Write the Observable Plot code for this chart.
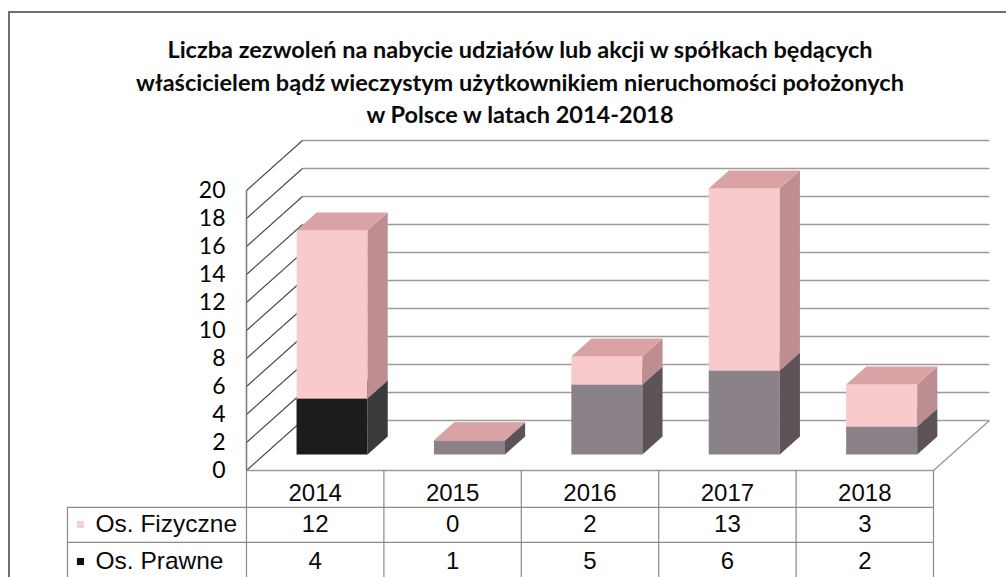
<!DOCTYPE html>
<html>
<head>
<meta charset="utf-8">
<script src="https://cdn.jsdelivr.net/npm/d3@7"></script>
<script src="https://cdn.jsdelivr.net/npm/@observablehq/plot@0.6"></script>
<style>
  html, body { margin: 0; padding: 0; background: #fff; width: 1006px; height: 577px; overflow: hidden; position: relative; }
  #frame { position: absolute; left: 8px; top: 11px; width: 1100px; height: 700px; border-top: 2px solid #6e6e6e; border-left: 2px solid #6e6e6e; box-sizing: border-box; }
  #title { position: absolute; left: 20px; top: 33px; width: 1000px; text-align: center; font-family: Lato, "Noto Sans", sans-serif; font-weight: bold; font-size: 23.5px; line-height: 32.5px; color: #0a0a0a; }
  #chart { position: absolute; left: 0; top: 130px; }
</style>
</head>
<body>
<div id="frame"></div>
<div id="title">Liczba zezwoleń na nabycie udziałów lub akcji w spółkach będących<br>właścicielem bądź wieczystym użytkownikiem nieruchomości położonych<br>w Polsce w latach 2014-2018</div>
<div id="chart"></div>
<script>
// ---- data ----
const years = ["2014", "2015", "2016", "2017", "2018"];
const fizyczne = [12, 0, 2, 13, 3];
const prawne = [4, 1, 5, 6, 2];
const seriesNames = ["Os. Fizyczne", "Os. Prawne"];
const yTicks = [0, 2, 4, 6, 8, 10, 12, 14, 16, 18, 20];

// ---- 3D layout (in scale units) ----
const dX = 0.4076, dY = 3.571;      // full depth of the box
const f1 = 0.31, f2 = 0.67;          // bar depth extent
const barW = 0.517;                  // bar width (category units)
const rowHeaderY = -1.64, rowFizY = -3.86, rowPrawY = -6.5;
const lineY = [-2.64, -5.14, -7.64];
const labelColX = -1.303;
const tableBottom = -8;

const colors = {
  fiz: {front: "#f9cacb", side: "#bd8d91", top: "#d9a3a5"},
  praw: {front: "#8b8188", side: "#5c5258", top: "#9c9097"},
  prawFirst: {front: "#1c1c1c", side: "#3a3a3a", top: "#2a2a2a"}
};

function segs(key) {
  return years.map((yr, i) => {
    const lo = key === "praw" ? 0 : prawne[i];
    const hi = key === "praw" ? prawne[i] : prawne[i] + fizyczne[i];
    const c = key === "praw" ? (i === 0 ? colors.prawFirst : colors.praw) : colors.fiz;
    const xl = i + 0.5 - barW / 2, xr = i + 0.5 + barW / 2;
    return {id: key + i, i, lo, hi, xl, xr, c};
  });
}
function sidePts(S) {
  return S.flatMap(s => [
    {id: s.id, x: s.xr + f1 * dX, a: s.lo + f1 * dY, b: s.hi + f1 * dY, fill: s.c.side},
    {id: s.id, x: s.xr + f2 * dX, a: s.lo + f2 * dY, b: s.hi + f2 * dY, fill: s.c.side}
  ]);
}
function topPts(S) {
  return S.flatMap(s => [
    {id: s.id, y: s.hi + f1 * dY, a: s.xl + f1 * dX, b: s.xr + f1 * dX, fill: s.c.top},
    {id: s.id, y: s.hi + f2 * dY, a: s.xl + f2 * dX, b: s.xr + f2 * dX, fill: s.c.top}
  ]);
}
function barMarks(S) {
  return [
    Plot.rect(S, {x1: d => d.xl + f1 * dX, x2: d => d.xr + f1 * dX, y1: d => d.lo + f1 * dY, y2: d => d.hi + f1 * dY, fill: d => d.c.front}),
    Plot.area(sidePts(S), {x1: "x", y1: "a", y2: "b", z: "id", fill: "fill"}),
    Plot.area(topPts(S), {y1: "y", x1: "a", x2: "b", z: "id", fill: "fill"})
  ];
}

const gridStroke = "#9c9c9c";
const tableStroke = "#8a8a8a";
const cols = d3.range(years.length + 1);
const tableFont = "Liberation Sans, Arial, sans-serif";

const plot = Plot.plot({
  width: 1006,
  height: 447,
  marginLeft: 246,
  marginRight: 73,
  marginTop: 60,
  marginBottom: 107,
  x: {type: "linear", domain: [0, years.length], axis: null},
  y: {type: "linear", domain: [0, 20], axis: null},
  color: {type: "identity"},
  style: {background: "transparent", overflow: "visible"},
  marks: [
    // back wall gridlines
    Plot.link(yTicks, {x1: dX, x2: years.length + dX, y1: d => d + dY, y2: d => d + dY, stroke: gridStroke, strokeWidth: 1.5}),
    // side wall diagonals
    Plot.link(yTicks, {x1: 0, x2: dX, y1: d => d, y2: d => d + dY, stroke: "#444", strokeWidth: 1.1}),
    Plot.ruleX([0], {y1: 0, y2: 20, stroke: "#777", strokeWidth: 1.5}),
    // floor right edge
    Plot.link([0], {x1: years.length, x2: years.length + dX, y1: 0, y2: dY, stroke: gridStroke, strokeWidth: 1.5}),
    // bars
    ...barMarks(segs("praw")),
    ...barMarks(segs("fiz")),
    // y axis
    Plot.axisY(yTicks, {anchor: "left", tickSize: 0, tickPadding: 21, fontSize: 23, fontFamily: "Lato, sans-serif", fill: "#000", label: null}),
    // table lines
    Plot.ruleY([0], {x1: 0, x2: years.length, stroke: gridStroke, strokeWidth: 1.5}),
    Plot.ruleY(lineY.slice(0, 2), {x1: labelColX, x2: years.length, stroke: tableStroke, strokeWidth: 1.2}),
    Plot.ruleX(cols, {y1: 0, y2: tableBottom, stroke: tableStroke, strokeWidth: 1.2}),
    Plot.ruleX([labelColX], {y1: lineY[0], y2: tableBottom, stroke: tableStroke, strokeWidth: 1.2}),
    // table text
    Plot.text(years, {x: (d, i) => i + 0.5, y: rowHeaderY, text: d => d, fontSize: 24, fontFamily: tableFont, fill: "#0a0a0a"}),
    Plot.text(fizyczne, {x: (d, i) => i + 0.5, y: rowFizY, text: d => String(d), fontSize: 24, fontFamily: tableFont, fill: "#0a0a0a"}),
    Plot.text(prawne, {x: (d, i) => i + 0.5, y: rowPrawY, text: d => String(d), fontSize: 24, fontFamily: tableFont, fill: "#0a0a0a"}),
    Plot.text(seriesNames, {x: labelColX, y: (d, i) => i === 0 ? rowFizY : rowPrawY, text: d => d, textAnchor: "start", dx: 28, fontSize: 24.5, fontFamily: tableFont, fill: "#0a0a0a"}),
    Plot.dot(seriesNames, {x: labelColX, y: (d, i) => i === 0 ? rowFizY : rowPrawY, dx: 13, symbol: "square", r: 4, fill: (d, i) => i === 0 ? "#f6cfd6" : "#111", stroke: null})
  ]
});
document.getElementById("chart").appendChild(plot);
</script>
</body>
</html>
